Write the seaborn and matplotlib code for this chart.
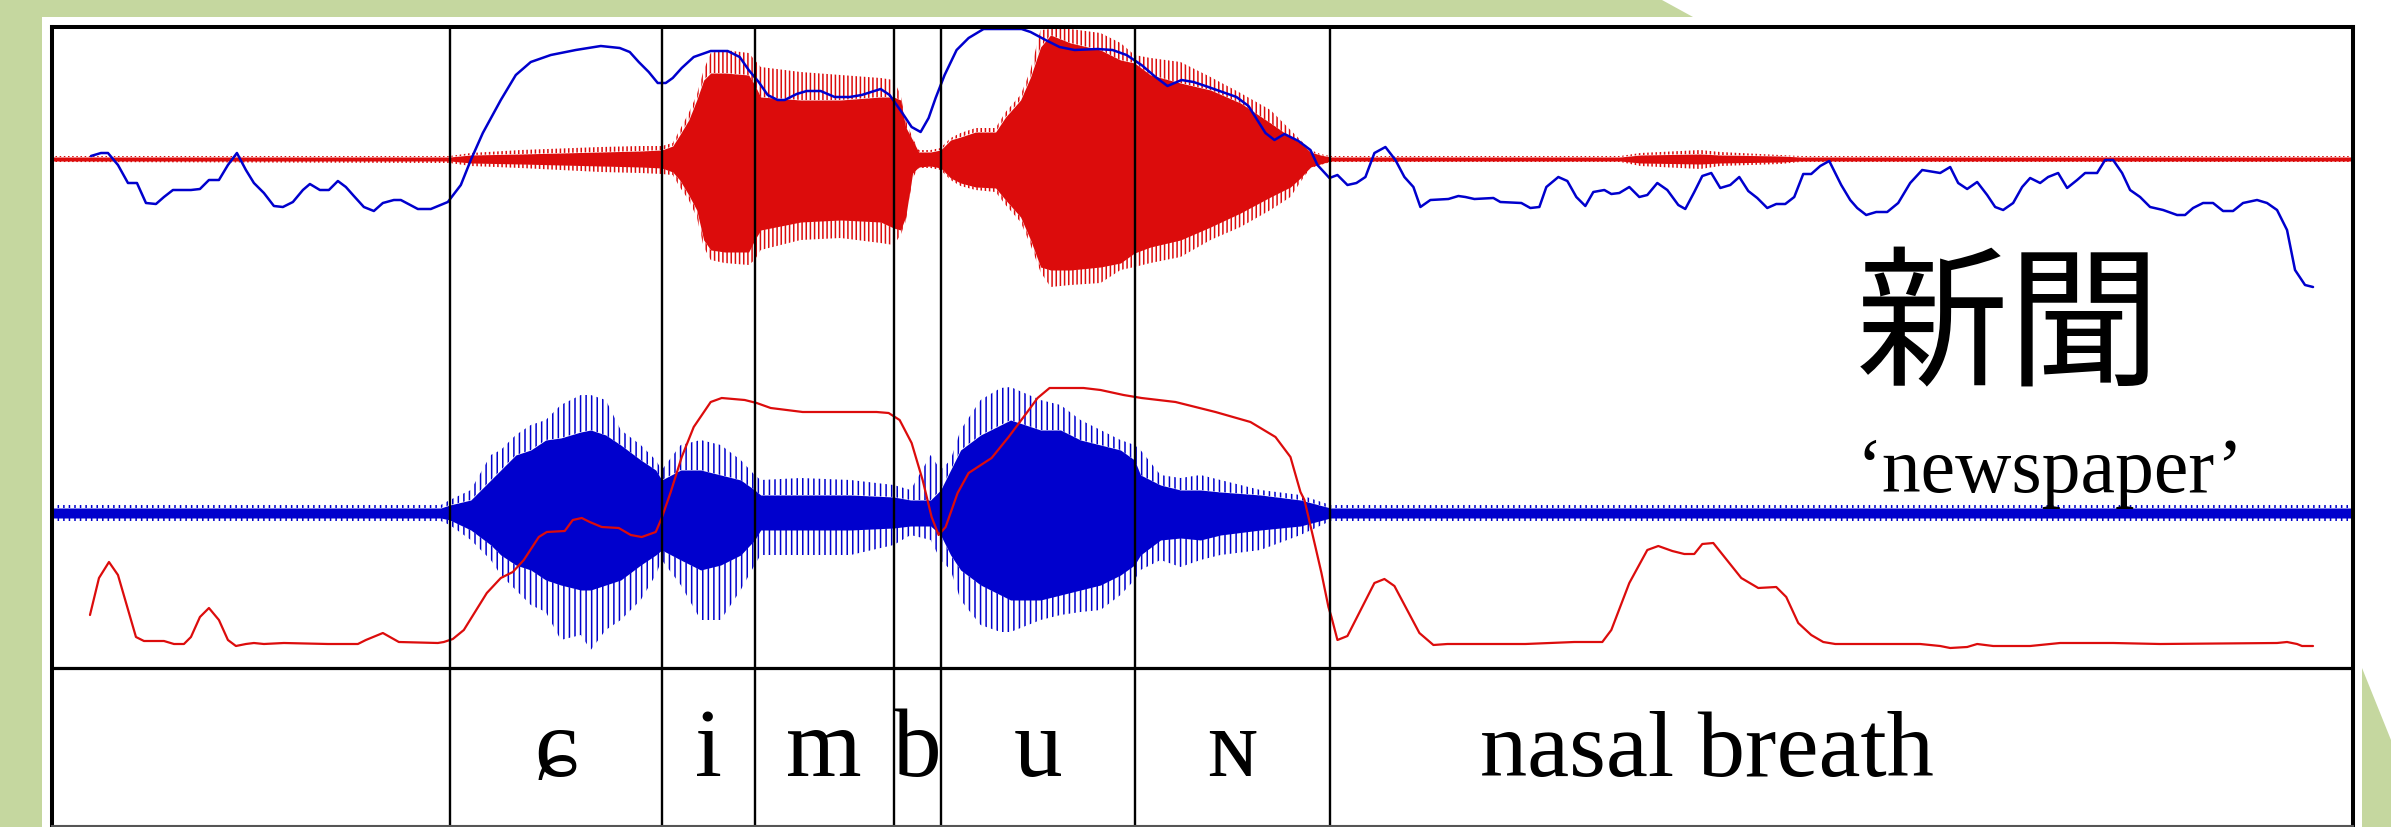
import numpy as np
import pandas as pd
import matplotlib.pyplot as plt
import seaborn as sns
from matplotlib.patches import Polygon

sns.set_style("white")
plt.rcParams["hatch.linewidth"] = 1.1
plt.rcParams["text.color"] = "black"

RED = "#dc0c0c"
BLUE = "#0000cd"
GREEN = "#c5d79f"

# ---- segmentation (time in ms) ----
bounds = [199, 305, 351.5, 421, 444.5, 541.5, 639.5]
phones = ["ɕ", "i", "m", "b", "u", "ɴ"]
breath_label = "nasal breath"
breath_t = 828
t_end = 1151
word = "新聞"
gloss = "‘newspaper’"

# ---- audio channel 1 (red waveform), envelope of the samples ----
red_t = [0, 199, 209.5, 234.5, 274.5, 294.5, 305, 310.5, 314, 318.5, 322.5, 326, 329.5, 336.5, 348.5,
         351.5, 354.5, 374.5, 394.5, 414.5, 421, 424.5, 427, 430.5, 433.5, 439.5, 444.5, 449.5, 454.5,
         462, 472, 477, 484.5, 489.5, 494.5, 499.5, 509.5, 524.5, 534.5, 541.5, 549.5, 564.5, 579.5,
         594.5, 609.5, 619.5, 624.5, 629.5, 634.5, 639.5, 784.5, 794.5, 824.5, 834.5, 864.5, 874.5, 1151]
red_body_hi = [0.02, 0.02, 0.04, 0.05, 0.07, 0.08, 0.09, 0.13, 0.24, 0.39, 0.59, 0.79, 0.86, 0.86, 0.84,
               0.74, 0.62, 0.59, 0.59, 0.62, 0.62, 0.59, 0.32, 0.19, 0.07, 0.07, 0.09, 0.19, 0.22, 0.27,
               0.27, 0.42, 0.59, 0.82, 1.12, 1.24, 1.16, 1.09, 0.99, 0.96, 0.84, 0.76, 0.69, 0.56, 0.36,
               0.22, 0.16, 0.07, 0.04, 0.02, 0.02, 0.04, 0.05, 0.04, 0.03, 0.02, 0.02]
red_body_lo = [-0.02, -0.02, -0.04, -0.05, -0.07, -0.08, -0.09, -0.13, -0.21, -0.36, -0.51, -0.81, -0.91,
               -0.93, -0.93, -0.81, -0.71, -0.63, -0.61, -0.63, -0.69, -0.71, -0.58, -0.14, -0.08, -0.07,
               -0.09, -0.19, -0.24, -0.28, -0.29, -0.41, -0.58, -0.81, -1.08, -1.11, -1.11, -1.08, -1.04,
               -0.94, -0.88, -0.81, -0.68, -0.54, -0.38, -0.28, -0.19, -0.08, -0.05, -0.02, -0.02, -0.04,
               -0.05, -0.04, -0.03, -0.02, -0.02]
red_peak_hi = [0.03, 0.03, 0.06, 0.09, 0.12, 0.13, 0.13, 0.16, 0.29, 0.46, 0.64, 0.89, 1.06, 1.09, 1.06,
               0.99, 0.92, 0.87, 0.84, 0.81, 0.79, 0.64, 0.39, 0.21, 0.09, 0.09, 0.11, 0.21, 0.26, 0.31,
               0.31, 0.47, 0.64, 0.89, 1.29, 1.30, 1.30, 1.26, 1.16, 1.04, 1.01, 0.97, 0.82, 0.66, 0.49,
               0.29, 0.19, 0.09, 0.05, 0.03, 0.03, 0.06, 0.09, 0.07, 0.04, 0.03, 0.03]
red_peak_lo = [-0.03, -0.04, -0.07, -0.09, -0.13, -0.14, -0.15, -0.16, -0.28, -0.41, -0.58, -0.88, -1.01,
               -1.04, -1.06, -1.01, -0.91, -0.81, -0.79, -0.84, -0.86, -0.76, -0.63, -0.19, -0.09, -0.09,
               -0.11, -0.21, -0.27, -0.31, -0.33, -0.46, -0.63, -0.86, -1.13, -1.28, -1.26, -1.24, -1.11,
               -1.08, -1.04, -0.98, -0.81, -0.68, -0.51, -0.38, -0.23, -0.09, -0.06, -0.03, -0.03, -0.07,
               -0.10, -0.07, -0.05, -0.03, -0.03]

# ---- audio channel 2 (blue waveform) ----
blue_t = [0, 194.5, 199, 209.5, 219.5, 224.5, 232, 239.5, 247, 254.5, 264.5, 269.5, 277, 284.5, 294.5,
          302, 305, 314.5, 324.5, 334.5, 344.5, 351.5, 354.5, 374.5, 399.5, 421, 429.5, 439.5, 444.5,
          449.5, 454.5, 464.5, 474.5, 479.5, 494.5, 504.5, 514.5, 524.5, 534.5, 541.5, 544.5, 554.5,
          564.5, 574.5, 584.5, 604.5, 624.5, 639.5, 1151]
blue_body_hi = [0.05, 0.05, 0.08, 0.13, 0.33, 0.43, 0.58, 0.63, 0.73, 0.75, 0.81, 0.83, 0.78, 0.68, 0.53,
                0.43, 0.33, 0.43, 0.43, 0.38, 0.33, 0.23, 0.18, 0.18, 0.18, 0.16, 0.13, 0.13, 0.23, 0.43,
                0.63, 0.78, 0.88, 0.93, 0.83, 0.83, 0.73, 0.68, 0.63, 0.53, 0.38, 0.28, 0.23, 0.23, 0.21,
                0.18, 0.13, 0.05, 0.05]
blue_body_lo = [-0.05, -0.05, -0.07, -0.17, -0.32, -0.42, -0.52, -0.57, -0.67, -0.72, -0.77, -0.77, -0.72,
                -0.67, -0.52, -0.42, -0.37, -0.47, -0.57, -0.52, -0.42, -0.27, -0.17, -0.17, -0.17, -0.15,
                -0.13, -0.13, -0.22, -0.42, -0.57, -0.72, -0.82, -0.87, -0.87, -0.82, -0.77, -0.72, -0.62,
                -0.52, -0.42, -0.27, -0.25, -0.27, -0.22, -0.17, -0.13, -0.05, -0.05]
blue_peak_hi = [0.08, 0.08, 0.13, 0.23, 0.58, 0.63, 0.78, 0.88, 0.93, 1.08, 1.18, 1.18, 1.13, 0.83, 0.68,
                0.53, 0.43, 0.68, 0.73, 0.68, 0.53, 0.38, 0.33, 0.35, 0.33, 0.28, 0.23, 0.58, 0.43, 0.53,
                0.83, 1.13, 1.25, 1.26, 1.13, 1.08, 0.93, 0.83, 0.73, 0.68, 0.63, 0.38, 0.35, 0.38, 0.33,
                0.23, 0.18, 0.08, 0.08]
blue_peak_lo = [-0.08, -0.08, -0.12, -0.27, -0.47, -0.62, -0.77, -0.92, -0.99, -1.27, -1.22, -1.37, -1.17,
                -1.07, -0.87, -0.62, -0.47, -0.72, -1.07, -1.07, -0.77, -0.52, -0.42, -0.42, -0.42, -0.32,
                -0.22, -0.27, -0.47, -0.57, -0.87, -1.12, -1.19, -1.19, -1.07, -1.02, -0.99, -0.97, -0.82,
                -0.67, -0.57, -0.47, -0.54, -0.47, -0.42, -0.37, -0.22, -0.08, -0.08]

# ---- pitch contour (Hz) ----
f0_t = [19.5, 24.5, 28, 33, 38, 42.5, 47, 52, 56, 60.5, 69.5, 74, 78.5, 83.5, 88, 92.5, 97, 101, 106, 111,
        115.5, 120.5, 125.5, 129, 134, 138.5, 143, 147, 151, 156, 161, 165.5, 171, 174.5, 183, 189.5, 198,
        204.5, 209.5, 215.5, 224.5, 232, 239.5, 249.5, 262, 274.5, 284, 289, 293.5, 298.5, 303, 307, 310.5,
        315, 321, 329.5, 338, 344, 348.5, 353.5, 358, 363, 366.5, 372.5, 377.5, 384.5, 391.5, 399, 405,
        414.5, 419, 425, 430, 434.5, 438.5, 442, 446.5, 452.5, 458.5, 466, 485, 489.5, 497, 504, 511.5,
        523, 530.5, 537.5, 545, 552, 558, 565, 571, 577, 585.5, 592.5, 598.5, 607, 611.5, 616.5, 623.5,
        629.5, 633, 639, 643, 648, 652.5, 657, 661.5, 667, 672, 676.5, 681, 684.5, 689.5, 698.5, 703.5,
        707, 711.5, 721, 724.5, 735, 739.5, 744, 747.5, 753.5, 758, 762.5, 767, 771, 776.5, 780, 784,
        789, 794, 798, 803, 808, 813.5, 817, 821.5, 825.5, 830, 834.5, 839.5, 844, 848.5, 853, 858,
        862.5, 867, 871.5, 876, 880, 884.5, 889, 895, 899.5, 903, 907.5, 912.5, 918, 923.5, 929.5,
        935.5, 944.5, 949.5, 953.5, 958, 963, 968, 972, 976, 981, 985.5, 989.5, 994.5, 998.5, 1003.5,
        1008, 1013, 1017, 1023, 1027, 1031, 1035.5, 1039.5, 1044.5, 1049.5, 1056, 1063, 1067, 1071,
        1076, 1081, 1086, 1091, 1096, 1103, 1108, 1113, 1118, 1122, 1127, 1131]
f0_hz = [264, 267, 267, 255, 237, 237, 217, 216, 223, 230, 230, 231, 240, 240, 255, 267, 250, 237, 227, 214,
         213, 218, 230, 236, 230, 230, 239, 233, 224, 213, 209, 217, 220, 220, 211, 211, 218,
         235, 260, 287, 320, 345, 358, 365, 370, 374, 372, 368, 358, 348, 337, 337, 342,
         352, 363, 369, 369, 363, 350, 338, 325, 320, 320, 326, 329, 329, 323, 323, 325,
         331, 325, 308, 293, 288, 302, 322, 345, 370, 382, 391, 391, 388, 380, 373, 370,
         371, 370, 365, 355, 343, 334, 340, 338, 334, 328, 323, 314, 287, 280, 286, 279,
         270, 255, 242, 245, 235, 237, 243, 267, 273, 260, 243, 233, 213, 220, 221, 224,
         223, 221, 222, 218, 217, 212, 213, 233, 243, 239, 223, 214, 228, 230, 226, 227,
         233, 223, 225, 237, 230, 215, 211, 228, 244, 247, 232, 235, 243, 229, 222, 212,
         216, 216, 223, 246, 246, 254, 259, 235, 220, 212, 205, 208, 208, 217, 237,
         250, 247, 253, 237, 231, 238, 225, 213, 210, 217, 233, 242, 237, 243, 247,
         232, 240, 247, 247, 260, 260, 247, 230, 223, 213, 210, 205, 205, 212,
         217, 217, 209, 209, 217, 220, 217, 210, 190, 150, 135, 133]

# ---- intensity contour (dB) ----
int_t = [19, 23.5, 28.5, 33, 42, 46, 56, 61, 66, 69.5, 74, 78.5, 83.5, 88, 92, 97, 101, 106, 116, 138, 153,
         157, 165.5, 173.5, 193, 196, 200.5, 206, 217.5, 224.5, 230.5, 236, 243.5, 247.5, 256.5, 260.5, 265,
         269, 275, 283.5, 289.5, 295, 302, 305, 309.5, 315, 321, 329.5, 335, 346.5, 352.5, 359.5, 375.5,
         412.5, 418.5, 424, 430, 435.5, 440, 443.5, 447, 453, 458.5, 470, 478.5, 487.5, 493, 499, 516,
         524.5, 536, 545, 562, 582, 599.5, 612, 619.5, 624.5, 626.5, 632, 635, 638.5, 640, 643, 648,
         661.5, 666.5, 671.5, 684, 691, 698, 737, 761.5, 775.5, 780, 789, 798, 803.5, 810.5, 816.5,
         821.5, 825.5, 831, 839, 845, 853.5, 862.5, 867.5, 873.5, 880, 886, 892, 934.5, 944.5, 949.5,
         958, 963, 971, 989.5, 1004.5, 1031, 1054.5, 1113, 1118, 1123, 1125.5, 1131]
int_db = [21.25, 30.5, 34.5, 31.25, 15.75, 14.75, 14.75, 14, 14, 15.75, 20.75, 23, 20, 15, 13.5, 14, 14.25,
          14, 14.25, 14, 14, 15, 16.75, 14.5, 14.25, 14.5, 15.25, 17.5, 26.75, 30.5, 32, 35, 40.75, 42,
          42.25, 45, 45.5, 44.5, 43.25, 43, 41.25, 40.75, 42, 45.5, 52, 60.75, 68.25, 74.5, 75.5, 75,
          74.25, 73, 72, 72, 71.75, 70, 64.25, 55, 45.75, 41.25, 43.25, 51.75, 56.75, 60.5, 65.75, 71.75,
          75.5, 78, 78, 77.5, 76.25, 75.5, 74.5, 72, 69.5, 65.75, 60.75, 52, 50, 38.25, 31.75, 23.25,
          20.75, 15, 16, 29.25, 30.25, 28.5, 16.75, 13.75, 14, 14, 14.5, 14.5, 17.5, 29.25, 37.5, 38.5,
          37.25, 36.5, 36.5, 39, 39.25, 34.25, 30.5, 28, 28.25, 25.75, 19.25, 16.25, 14.5, 14, 14, 13.5,
          13, 13.25, 14, 13.5, 13.5, 14.25, 14.25, 14, 14.25, 14.5, 14, 13.5, 13.5]

# ---------------------------------------------------------------- layout
W_PX, H_PX = 2391, 827
fig = plt.figure(figsize=(W_PX / 100, H_PX / 100), dpi=100)

def fx(px):
    return px / W_PX

def fy(px):
    return 1 - px / H_PX

# decorative slide background
for pts in ([(0, 0), (fx(42), 0), (fx(42), 1), (0, 1)],
            [(0, 1), (fx(1662), 1), (fx(1693), fy(17)), (0, fy(17))],
            [(fx(2362), fy(668)), (1, fy(740)), (1, 0), (fx(2362), 0)]):
    fig.patches.append(Polygon(pts, closed=True, transform=fig.transFigure,
                               facecolor=GREEN, edgecolor="none", zorder=-5))

L, R = fx(52), fx(2353)
TOP, MID, BOT = fy(27), fy(668), fy(826)
upper = [L, MID, R - L, TOP - MID]


def track(lo, hi):
    ax = fig.add_axes(upper)
    ax.set_facecolor("none")
    return ax, (lo, hi)


def finish(ax, lim):
    ax.set_xlim(0, t_end)
    ax.set_ylim(*lim)
    ax.set_axis_off()


# red waveform
ax_r, lim_r = track(-5.09, 1.32)
ax_r.fill_between(red_t, red_body_lo, red_body_hi, color=RED, lw=0)
ax_r.fill_between(red_t, red_body_hi, red_peak_hi, facecolor="none", edgecolor=RED, hatch="||||", lw=0)
ax_r.fill_between(red_t, red_peak_lo, red_body_lo, facecolor="none", edgecolor=RED, hatch="||||", lw=0)
finish(ax_r, lim_r)

# blue waveform
ax_b, lim_b = track(-1.55, 4.86)
ax_b.fill_between(blue_t, blue_body_lo, blue_body_hi, color=BLUE, lw=0)
ax_b.fill_between(blue_t, blue_body_hi, blue_peak_hi, facecolor="none", edgecolor=BLUE, hatch="|||", lw=0)
ax_b.fill_between(blue_t, blue_peak_lo, blue_body_lo, facecolor="none", edgecolor=BLUE, hatch="|||", lw=0)
finish(ax_b, lim_b)

# pitch
ax_f, lim_f = track(-248, 393)
sns.lineplot(data=pd.DataFrame({"t": f0_t, "hz": f0_hz}), x="t", y="hz", ax=ax_f,
             color=BLUE, lw=1.8, sort=False)
finish(ax_f, lim_f)

# intensity
ax_i, lim_i = track(8, 168.25)
sns.lineplot(data=pd.DataFrame({"t": int_t, "db": int_db}), x="t", y="db", ax=ax_i,
             color=RED, lw=1.6, sort=False)
finish(ax_i, lim_i)

# frame with segment boundaries and labels
ax = fig.add_axes([L, BOT, R - L, TOP - BOT])
ax.set_facecolor("none")
ax.set_zorder(10)
ax.set_xlim(0, t_end)
ax.set_ylim(0, 1)
ax.set_xticks([])
ax.set_yticks([])
for s in ax.spines.values():
    s.set_color("black")
    s.set_linewidth(2.9)
ax.spines["bottom"].set_color("#555555")
ax.spines["bottom"].set_linewidth(1.5)
split = (MID - BOT) / (TOP - BOT)
ax.axhline(split, color="black", lw=2.3)
for b in bounds:
    ax.axvline(b, color="black", lw=1.7)

serif = ["Liberation Serif", "DejaVu Serif"]
base = (826 - 776) / (826 - 27)
mids = [(a + b) / 2 for a, b in zip(bounds[:-1], bounds[1:])]
for m, p in zip(mids, phones):
    ax.text(m, base, p, ha="center", va="baseline", fontsize=70, family=serif, color="black")
ax.text(breath_t, base, breath_label, ha="center", va="baseline", fontsize=68, family=serif,
        color="black")

fig.text(fx(2009), fy(331), word, ha="center", va="center", fontsize=110, color="black",
         family=["Noto Sans CJK JP", "DejaVu Sans"])
fig.text(fx(2050), fy(492), gloss, ha="center", va="baseline", fontsize=56, family=serif,
         color="black")

fig.savefig("out.png", dpi=100)
